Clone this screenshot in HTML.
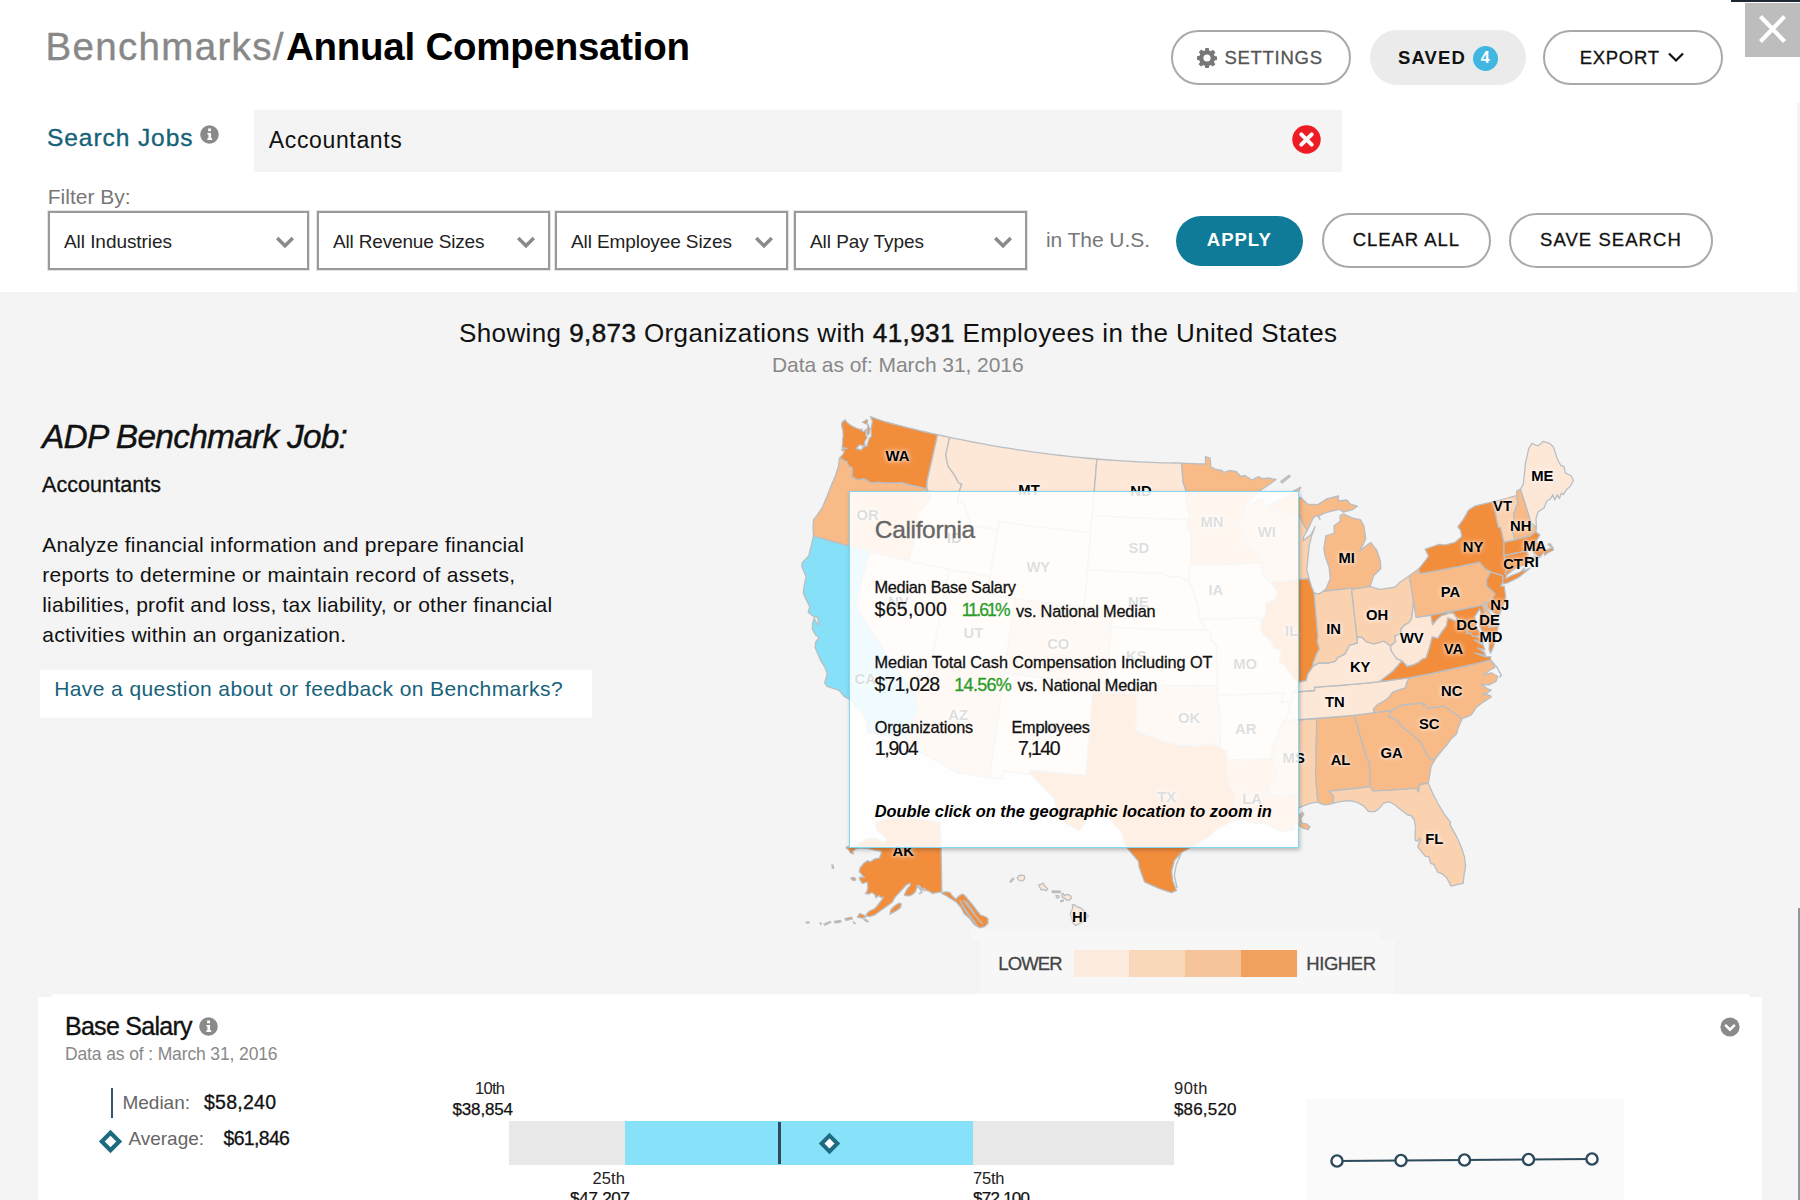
<!DOCTYPE html>
<html lang="en"><head><meta charset="utf-8"><title>Benchmarks / Annual Compensation</title>
<style>
*{box-sizing:border-box}
html,body{margin:0;padding:0}
body{width:1800px;height:1200px;overflow:hidden;position:relative;background:#f4f4f4;font-family:"Liberation Sans", Arial, sans-serif;color:#222}
.t{position:absolute;white-space:pre;line-height:1;display:block;font-weight:400;margin:0}
.abs{position:absolute}
.showing b{font-weight:400;-webkit-text-stroke:.5px #111}
.top{position:absolute;left:0;top:0;width:1797px;height:292px;background:#fff}
.topfill{position:absolute;left:1797px;top:0;width:3px;height:103px;background:#fff}
.close{position:absolute;left:1745px;top:3px;width:55px;height:54px;background:#bdbdbd}
.darkline{position:absolute;left:1731px;top:0;width:69px;height:1.5px;background:#1c2733}
.pill{position:absolute;border:2px solid #a9a9a9;border-radius:30px;background:#fff}
.pill.saved{border:none;background:#ebebeb}
.pill.apply{border:none;background:#0f7b99}
.badge{position:absolute;left:1472.5px;top:45.5px;width:25px;height:25px;border-radius:50%;background:#41b6e0}
.search{position:absolute;left:254px;top:109.5px;width:1088px;height:62px;background:#f4f4f4}
.sel{position:absolute;top:211px;height:59px;border:2px solid #9a9a9a;background:#fff;box-shadow:0 0 0 1px #e4e4e4}
.linkbox{position:absolute;left:40px;top:670px;width:552px;height:48px;background:#fff}
.map{position:absolute;left:780px;top:400px;width:840px;height:540px}
.usmap{display:block}
.sl{position:absolute;width:40px;height:16px;line-height:16px;text-align:center;font-size:14.8px;font-weight:700;color:#000;text-shadow:0 0 3px rgba(255,255,255,.75),0 0 5px rgba(255,255,255,.6),0 0 7px rgba(255,255,255,.45)}
.tip{position:absolute;left:849.2px;top:490.8px;width:449.7px;height:357.6px;border:1.7px solid #7fd9f5;background:rgba(255,255,255,.87);box-shadow:1px 2px 4px rgba(0,0,0,.25)}
.legendbg1{position:absolute;left:971px;top:929px;width:409px;height:12px;background:#f7f7f7}
.legendbg2{position:absolute;left:980px;top:941px;width:415px;height:53px;background:#f7f7f7}
.sw{position:absolute;top:949.5px;height:27px;width:56.2px}
.card{position:absolute;left:38px;top:994px;width:1724px;height:206px;background:#fff}
.chartbox{position:absolute;left:1306px;top:1099px;width:318px;height:101px;background:#fafafa}
.bar{position:absolute;left:509px;top:1121px;width:664.5px;height:44px;background:#e8e8e8}
.bar i{position:absolute;left:116px;top:0;width:347.5px;height:44px;background:#86e1f9}
.bar b{position:absolute;left:269px;top:1px;width:2.5px;height:42px;background:#2d4a5c}
.edge{position:absolute;left:1798.4px;top:908px;width:1.6px;height:292px;background:#8e9aa2}
.cardnotch{position:absolute;left:1749px;top:994px;width:13px;height:3px;background:#f4f4f4}
.cardnotch2{position:absolute;left:38px;top:994px;width:14px;height:3px;background:#f4f4f4}
.medline{position:absolute;left:110.5px;top:1087.5px;width:2.5px;height:30px;background:#2d5472}
</style></head>
<body>
<header class="top"></header><div class="topfill"></div>
<div class="darkline"></div>
<button class="close abs" style="border:0;padding:0" aria-label="Close"><svg width="55" height="54" viewBox="0 0 55 54"><path d="M15.5 13.5L39.5 38.5M39.5 13.5L15.5 38.5" stroke="#fff" stroke-width="4.2" fill="none"/></svg></button>
<h1 style="margin:0"><span class="t" style="left:45.5px;top:28.1px;font-size:38.5px;letter-spacing:1.33px;color:#888;-webkit-text-stroke:.4px #888;">Benchmarks/</span><span class="t" style="left:286.0px;top:28.1px;font-size:38.5px;letter-spacing:-0.25px;font-weight:700;color:#000;">Annual Compensation</span></h1>

<nav>
<div class="pill" style="left:1171px;top:30px;width:180px;height:55px"></div>
<svg class="abs" style="left:1197px;top:48px" width="20" height="20" viewBox="0 0 20 20"><path fill="#777" fill-rule="evenodd" d="M8.3 0h3.4l.5 2.6 1.6.7 2.2-1.5 2.4 2.4-1.5 2.2.7 1.6 2.6.5v3.4l-2.6.5-.7 1.6 1.5 2.2-2.4 2.4-2.2-1.5-1.6.7-.5 2.6H8.3l-.5-2.6-1.6-.7-2.2 1.5-2.4-2.4 1.5-2.2-.7-1.6L0 11.700V8.300l2.600-.5.7-1.600-1.500-2.200 2.400-2.400 2.200 1.500 1.600-.7zM10 6.400a3.600 3.600 0 100 7.200 3.600 3.600 0 000-7.200z"/></svg>
<span class="t" style="left:1224.5px;top:48.8px;font-size:18.5px;letter-spacing:0.71px;color:#555;-webkit-text-stroke:.3px #555;">SETTINGS</span>
<div class="pill saved" style="left:1370px;top:30px;width:156px;height:55px"></div>
<span class="t" style="left:1398.0px;top:48.5px;font-size:18.5px;letter-spacing:1.11px;font-weight:700;color:#111;">SAVED</span>
<div class="badge"></div><span class="t" style="left:1480.7px;top:50.3px;font-size:16px;font-weight:700;color:#fff;">4</span>
<div class="pill" style="left:1542.5px;top:30px;width:180px;height:55px"></div>
<span class="t" style="left:1579.7px;top:48.5px;font-size:18.5px;letter-spacing:0.71px;color:#111;-webkit-text-stroke:.3px #111;">EXPORT</span>
<svg class="abs" style="left:1667px;top:51px" width="18" height="13" viewBox="0 0 18 13"><path d="M2 2.5L9 9.500L16 2.500" stroke="#111" stroke-width="2.2" fill="none"/></svg>
</nav>

<section>
<span class="t" style="left:47.0px;top:126.3px;font-size:24.5px;letter-spacing:0.93px;color:#16627a;-webkit-text-stroke:.35px #16627a;">Search Jobs</span>
<svg class="abs" style="left:200px;top:125px" width="19" height="19" viewBox="0 0 19 19"><circle cx="9.5" cy="9.5" r="9.3" fill="#8a8a8a"/><path d="M8.100 3.600h2.900v2.600H8.100zM7.400 8h3.700v5.300h1.100v1.600H7.400v-1.600h1V9.600h-1z" fill="#fff"/></svg>
<div class="search"></div>
<span class="t" style="left:268.8px;top:128.5px;font-size:23px;letter-spacing:0.64px;color:#111;">Accountants</span>
<svg class="abs" style="left:1292px;top:124.5px" width="29" height="29" viewBox="0 0 29 29"><circle cx="14.5" cy="14.5" r="14.2" fill="#ee1c24"/><path d="M9.300 9.300L19.700 19.700M19.700 9.300L9.300 19.700" stroke="#fff" stroke-width="4" stroke-linecap="round"/></svg>
<span class="t" style="left:47.7px;top:185.5px;font-size:21px;letter-spacing:0.02px;color:#777;">Filter By:</span><div class="sel" style="left:48px;width:261px"></div><span class="t" style="left:64.0px;top:231.6px;font-size:19px;letter-spacing:-0.06px;">All Industries</span><svg class="abs" style="left:274.5px;top:235px" width="20" height="15" viewBox="0 0 20 15"><path d="M2.200 3L10 10.800L17.800 3" stroke="#8a8a8a" stroke-width="3.400" fill="none"/></svg><div class="sel" style="left:317px;width:233px"></div><span class="t" style="left:333.0px;top:231.6px;font-size:19px;letter-spacing:-0.17px;">All Revenue Sizes</span><svg class="abs" style="left:515.5px;top:235px" width="20" height="15" viewBox="0 0 20 15"><path d="M2.200 3L10 10.800L17.800 3" stroke="#8a8a8a" stroke-width="3.400" fill="none"/></svg><div class="sel" style="left:555px;width:233px"></div><span class="t" style="left:571.0px;top:231.6px;font-size:19px;letter-spacing:-0.10px;">All Employee Sizes</span><svg class="abs" style="left:753.5px;top:235px" width="20" height="15" viewBox="0 0 20 15"><path d="M2.200 3L10 10.800L17.800 3" stroke="#8a8a8a" stroke-width="3.400" fill="none"/></svg><div class="sel" style="left:794px;width:233px"></div><span class="t" style="left:810.0px;top:231.6px;font-size:19px;letter-spacing:-0.06px;">All Pay Types</span><svg class="abs" style="left:992.5px;top:235px" width="20" height="15" viewBox="0 0 20 15"><path d="M2.200 3L10 10.800L17.800 3" stroke="#8a8a8a" stroke-width="3.400" fill="none"/></svg><span class="t" style="left:1046.0px;top:229.0px;font-size:21px;letter-spacing:-0.07px;color:#777;">in The U.S.</span>
<div class="pill apply" style="left:1176px;top:216px;width:126.500px;height:49.500px"></div>
<span class="t" style="left:1206.8px;top:230.9px;font-size:18.5px;letter-spacing:1.00px;font-weight:700;color:#fff;">APPLY</span>
<div class="pill" style="left:1322px;top:213px;width:169px;height:54.500px"></div>
<span class="t" style="left:1352.8px;top:230.9px;font-size:18.5px;letter-spacing:0.93px;color:#111;-webkit-text-stroke:.3px #111;">CLEAR ALL</span>
<div class="pill" style="left:1509px;top:213px;width:203.500px;height:54.500px"></div>
<span class="t" style="left:1540.0px;top:230.9px;font-size:18.5px;letter-spacing:1.06px;color:#111;-webkit-text-stroke:.3px #111;">SAVE SEARCH</span>
</section>

<main>
<span class="t showing" style="left:458.9px;top:320.4px;font-size:26px;letter-spacing:0.41px;color:#111;">Showing <b>9,873</b> Organizations with <b>41,931</b> Employees in the United States</span><span class="t" style="left:772.0px;top:353.7px;font-size:21px;letter-spacing:-0.07px;color:#888;">Data as of: March 31, 2016</span><span class="t" style="left:42.0px;top:420.3px;font-size:33.5px;letter-spacing:-0.77px;font-style:italic;color:#111;-webkit-text-stroke:.4px #111;">ADP Benchmark Job:</span><span class="t" style="left:42.0px;top:475.3px;font-size:21.5px;letter-spacing:0.07px;color:#111;-webkit-text-stroke:.3px #111;">Accountants</span><span class="t" style="left:42.2px;top:534.2px;font-size:21px;letter-spacing:0.25px;color:#111;">Analyze financial information and prepare financial</span>
<span class="t" style="left:42.2px;top:564.2px;font-size:21px;letter-spacing:0.29px;color:#111;">reports to determine or maintain record of assets,</span>
<span class="t" style="left:42.2px;top:594.2px;font-size:21px;letter-spacing:0.23px;color:#111;">liabilities, profit and loss, tax liability, or other financial</span>
<span class="t" style="left:42.2px;top:624.2px;font-size:21px;letter-spacing:0.26px;color:#111;">activities within an organization.</span><div class="linkbox"></div><span class="t" style="left:54.2px;top:677.5px;font-size:21px;letter-spacing:0.41px;color:#16627a;">Have a question about or feedback on Benchmarks?</span><div class="map"><svg class="usmap" width="840" height="540" viewBox="0 0 840 540">
<g class="states" stroke="#b9bec3" stroke-width="1.3" stroke-linejoin="round">
<path id="st-WA" fill="#f28d3c" d="M59.5,58.2L62.0,55.3L63.6,53.4L64.3,50.8L62.0,50.6L61.8,49.2L67.2,48.6L62.0,47.4L62.5,45.0L62.7,40.0L63.2,35.0L62.8,30.0L61.7,26.5L61.8,22.5L65.0,19.7L67.0,22.5L71.0,25.5L76.0,28.0L80.5,29.7L82.0,29.1L82.5,31.9L84.5,31.0L86.1,29.3L85.8,32.0L86.0,36.0L87.3,37.0L85.0,41.0L84.5,42.5L85.0,45.0L82.0,45.7L80.0,44.5L76.0,48.5L81.5,50.0L83.0,47.0L87.0,46.0L88.0,42.0L89.5,38.0L91.5,36.0L91.2,32.0L91.0,28.5L92.5,21.5L90.5,16.7L95.0,18.3L99.4,19.9L103.9,21.4L109.8,23.0L115.8,24.6L121.7,26.1L127.7,27.7L133.7,29.1L139.6,30.6L145.6,32.0L151.6,33.4L157.6,34.7L155.9,42.4L154.1,50.1L152.4,57.8L150.6,65.5L148.9,73.2L147.1,81.0L146.9,88.9L141.6,87.7L136.4,86.5L131.1,85.3L125.8,84.0L120.6,82.7L116.5,83.1L111.8,83.1L107.0,83.2L103.1,82.8L99.1,82.5L95.0,82.6L90.9,82.8L87.4,80.8L83.9,78.9L80.3,79.4L76.8,79.8L71.7,76.5L72.1,72.7L72.1,67.9L68.6,66.0L67.0,62.0L64.0,60.4ZM82.5,22.2L86.8,19.7L87.6,20.7L87.0,24.0L85.0,23.5ZM88.1,24.5L89.6,28.5L89.1,34.0L87.6,35.0L87.1,31.0Z"/>
<path id="st-OR" fill="#f8ba86" d="M33.5,135.9L33.0,128.0L33.5,119.6L36.9,115.6L39.6,111.5L42.3,107.5L44.8,101.4L47.4,95.4L49.1,91.1L50.7,86.7L53.3,80.7L55.8,74.7L57.2,70.3L58.5,65.9L59.5,58.2L64.0,60.4L67.0,62.0L68.6,66.0L72.1,67.9L72.1,72.7L71.7,76.5L76.8,79.8L80.3,79.4L83.9,78.9L87.4,80.8L90.9,82.8L95.0,82.6L99.1,82.5L103.1,82.8L107.0,83.2L111.8,83.1L116.5,83.1L120.6,82.7L125.8,84.0L131.1,85.3L136.4,86.5L141.6,87.7L146.9,88.9L150.6,94.4L150.4,98.2L146.7,103.0L143.7,107.1L140.1,111.1L136.7,117.0L139.2,121.3L136.6,127.8L134.7,136.1L132.8,144.4L130.9,152.7L129.0,161.0L122.4,159.5L115.7,158.0L109.1,156.4L102.5,154.8L95.8,153.2L89.2,151.5L83.0,149.9L76.8,148.2L70.6,146.6L64.4,144.9L58.2,143.1L52.0,141.4L45.8,139.6L39.6,137.8Z"/>
<path id="st-NV" fill="#fde8d8" d="M89.2,151.5L95.8,153.2L102.5,154.8L109.1,156.4L115.7,158.0L122.4,159.5L129.0,161.0L135.7,162.5L142.4,163.9L149.1,165.3L155.8,166.7L162.6,168.0L169.3,169.3L167.7,177.6L166.0,186.0L164.4,194.3L162.8,202.6L161.2,210.9L159.6,219.3L158.0,227.6L156.3,236.0L154.7,244.3L153.1,252.6L151.5,261.0L150.0,268.3L148.6,275.7L143.3,275.6L138.1,275.5L137.5,281.1L136.8,286.7L137.3,292.5L135.7,296.0L129.8,287.9L124.0,279.8L118.2,271.6L112.6,263.5L107.0,255.3L101.5,247.0L96.0,238.8L90.7,230.6L85.4,222.3L80.2,214.0L75.1,205.7L77.1,197.9L79.1,190.2L81.1,182.4L83.2,174.7L85.2,167.0L87.2,159.2Z"/>
<path id="st-ID" fill="#fde8d8" d="M157.6,34.7L163.6,36.0L169.6,37.3L168.3,43.3L167.0,49.3L165.7,55.2L166.8,60.6L168.0,66.0L171.5,71.0L175.0,75.9L178.8,83.3L181.9,83.9L179.1,91.8L178.3,97.3L177.5,102.8L183.7,102.1L185.8,108.6L187.9,115.1L189.9,120.6L191.9,126.2L196.5,126.5L201.2,126.9L206.4,127.8L211.7,128.6L217.4,130.9L215.9,140.0L214.4,149.1L213.0,158.2L211.5,167.3L210.0,176.4L204.2,175.5L198.4,174.5L192.5,173.5L186.7,172.5L180.9,171.5L175.1,170.4L169.3,169.3L162.6,168.0L155.8,166.7L149.1,165.3L142.4,163.9L135.7,162.5L129.0,161.0L130.9,152.7L132.8,144.4L134.7,136.1L136.6,127.8L139.2,121.3L136.7,117.0L140.1,111.1L143.7,107.1L146.7,103.0L150.4,98.2L150.6,94.4L146.9,88.9L147.1,81.0L148.9,73.2L150.6,65.5L152.4,57.8L154.1,50.1L155.9,42.4Z"/>
<path id="st-MT" fill="#fde8d8" d="M169.6,37.3L175.5,38.6L181.3,39.7L187.1,40.9L193.0,42.0L198.8,43.1L204.7,44.2L210.6,45.3L216.4,46.3L222.3,47.3L228.2,48.2L234.1,49.2L240.0,50.1L245.9,50.9L251.8,51.8L257.7,52.6L263.6,53.4L269.5,54.1L275.4,54.8L281.3,55.5L287.3,56.2L293.2,56.8L299.1,57.4L305.0,58.0L311.0,58.5L316.9,59.0L316.2,67.0L315.6,75.0L314.9,83.0L314.2,91.0L313.5,99.0L312.8,107.1L312.1,115.1L311.4,123.8L310.6,132.4L304.5,131.9L298.4,131.3L292.2,130.7L286.1,130.1L280.0,129.5L273.8,128.8L267.7,128.1L261.6,127.3L255.5,126.6L249.4,125.8L243.3,125.0L237.2,124.1L231.1,123.2L225.0,122.3L218.9,121.3L218.2,126.1L217.4,130.9L211.7,128.6L206.4,127.8L201.2,126.9L196.5,126.5L191.9,126.2L189.9,120.6L187.9,115.1L185.8,108.6L183.7,102.1L177.5,102.8L178.3,97.3L179.1,91.8L181.9,83.9L178.8,83.3L175.0,75.9L171.5,71.0L168.0,66.0L166.8,60.6L165.7,55.2L167.0,49.3L168.3,43.3Z"/>
<path id="st-WY" fill="#fde8d8" d="M217.4,130.9L218.2,126.1L218.9,121.3L225.0,122.3L231.1,123.2L237.2,124.1L243.3,125.0L249.4,125.8L255.5,126.6L261.6,127.3L267.7,128.1L273.8,128.8L280.0,129.5L286.1,130.1L292.2,130.7L298.4,131.3L304.5,131.9L310.6,132.4L310.0,139.8L309.4,147.2L308.7,154.6L308.1,162.0L307.5,169.4L306.8,176.8L306.2,184.3L305.5,191.7L304.9,199.1L304.3,206.6L297.9,206.0L291.6,205.4L285.3,204.8L278.9,204.2L272.6,203.5L266.3,202.8L260.0,202.1L253.7,201.3L247.4,200.6L241.0,199.7L234.7,198.9L229.2,198.1L223.7,197.3L218.1,196.5L212.6,195.7L207.1,194.8L208.1,188.7L209.0,182.5L210.0,176.4L211.5,167.3L213.0,158.2L214.4,149.1L215.9,140.0Z"/>
<path id="st-UT" fill="#fde8d8" d="M169.3,169.3L175.1,170.4L180.9,171.5L186.7,172.5L192.5,173.5L198.4,174.5L204.2,175.5L210.0,176.4L209.0,182.5L208.1,188.7L207.1,194.8L212.6,195.7L218.1,196.5L223.7,197.3L229.2,198.1L234.7,198.9L233.6,207.1L232.4,215.3L231.3,223.5L230.2,231.8L229.0,240.0L227.9,248.2L226.7,256.4L225.6,264.7L224.4,272.9L217.8,272.0L211.1,271.0L204.5,270.0L197.8,269.0L191.2,268.0L184.5,266.9L177.9,265.8L171.3,264.6L164.7,263.4L158.1,262.2L151.5,261.0L153.1,252.6L154.7,244.3L156.3,236.0L158.0,227.6L159.6,219.3L161.2,210.9L162.8,202.6L164.4,194.3L166.0,186.0L167.7,177.6Z"/>
<path id="st-CO" fill="#fbd2b0" d="M234.7,198.9L241.0,199.7L247.4,200.6L253.7,201.3L260.0,202.1L266.3,202.8L272.6,203.5L278.9,204.2L285.3,204.8L291.6,205.4L297.9,206.0L304.3,206.6L309.8,207.0L315.4,207.5L321.0,207.9L326.6,208.3L332.2,208.6L331.8,214.8L331.4,221.0L331.0,227.2L330.5,235.2L329.9,243.2L329.4,251.2L328.9,259.2L328.4,267.2L327.9,275.2L327.4,283.2L320.4,282.7L313.4,282.2L306.5,281.7L299.6,281.1L292.8,280.6L285.9,279.9L279.1,279.3L272.2,278.6L265.4,277.9L258.5,277.1L251.7,276.4L244.9,275.5L238.1,274.7L231.2,273.8L224.4,272.9L225.6,264.7L226.7,256.4L227.9,248.2L229.0,240.0L230.2,231.8L231.3,223.5L232.4,215.3L233.6,207.1Z"/>
<path id="st-AZ" fill="#fbd2b0" d="M151.5,261.0L158.1,262.2L164.7,263.4L171.3,264.6L177.9,265.8L184.5,266.9L191.2,268.0L197.8,269.0L204.5,270.0L211.1,271.0L217.8,272.0L224.4,272.9L223.2,281.6L222.0,290.4L220.7,299.1L219.5,307.9L218.3,316.6L217.1,325.3L215.9,334.0L214.7,342.8L213.4,351.5L212.2,360.2L211.0,368.9L209.8,377.6L203.4,376.7L197.1,375.8L190.7,374.9L184.4,373.9L178.0,372.9L171.1,369.1L164.2,365.2L157.4,361.3L150.6,357.4L143.8,353.4L137.1,349.4L130.4,345.4L123.7,341.3L126.0,337.4L130.4,332.9L128.0,328.7L132.2,323.8L134.6,315.7L140.2,311.1L136.6,309.5L136.2,304.6L135.9,299.8L135.7,296.0L137.3,292.5L136.8,286.7L137.5,281.1L138.1,275.5L143.3,275.6L148.6,275.7L150.0,268.3Z"/>
<path id="st-NM" fill="#fde8d8" d="M224.4,272.9L231.2,273.8L238.1,274.7L244.9,275.5L251.7,276.4L258.5,277.1L265.4,277.9L272.2,278.6L279.1,279.3L285.9,279.9L292.8,280.6L299.6,281.1L306.5,281.7L313.4,282.2L313.0,286.9L312.7,291.5L312.0,299.9L311.3,308.3L310.6,316.7L309.9,325.0L309.2,333.4L308.5,341.8L307.9,350.1L307.2,358.5L306.5,366.8L305.8,375.2L298.8,374.6L291.7,374.1L284.7,373.5L277.7,372.8L270.6,372.2L263.6,371.5L256.6,370.7L249.6,370.0L250.5,374.2L243.9,373.4L237.3,372.7L230.7,371.9L224.1,371.0L223.0,379.3L216.4,378.5L209.8,377.6L211.0,368.9L212.2,360.2L213.4,351.5L214.7,342.8L215.9,334.0L217.1,325.3L218.3,316.6L219.5,307.9L220.7,299.1L222.0,290.4L223.2,281.6Z"/>
<path id="st-ND" fill="#fde8d8" d="M316.9,59.0L322.9,59.5L329.0,60.0L335.0,60.4L341.1,60.8L347.1,61.2L353.1,61.5L359.2,61.8L365.2,62.1L371.3,62.4L377.3,62.6L383.4,62.8L389.4,62.9L395.4,63.0L401.5,63.1L401.9,67.7L402.4,72.3L402.6,76.9L402.9,81.5L404.4,86.1L406.0,90.7L406.2,96.2L406.5,101.7L407.7,107.3L409.0,112.8L409.5,119.5L403.0,119.4L396.5,119.3L390.0,119.2L383.5,119.0L377.0,118.9L370.5,118.6L364.0,118.4L357.5,118.1L351.0,117.8L344.5,117.4L338.0,117.0L331.6,116.6L325.1,116.1L318.6,115.6L312.1,115.1L312.8,107.1L313.5,99.0L314.2,91.0L314.9,83.0L315.6,75.0L316.2,67.0Z"/>
<path id="st-SD" fill="#fde8d8" d="M312.1,115.1L318.6,115.6L325.1,116.1L331.6,116.6L338.0,117.0L344.5,117.4L351.0,117.8L357.5,118.1L364.0,118.4L370.5,118.6L377.0,118.9L383.5,119.0L390.0,119.2L396.5,119.3L403.0,119.4L409.5,119.5L405.6,125.7L410.9,131.3L410.8,139.6L410.8,148.0L410.7,156.3L410.7,164.7L408.6,170.3L410.0,175.9L408.6,181.4L410.6,183.5L407.2,181.4L403.1,178.2L399.7,177.4L396.3,176.6L390.9,177.5L386.8,175.5L382.8,173.6L376.5,173.4L370.2,173.2L363.9,172.9L357.6,172.7L351.4,172.4L345.1,172.0L338.8,171.7L332.5,171.3L326.3,170.9L320.0,170.4L313.7,169.9L307.5,169.4L308.1,162.0L308.7,154.6L309.4,147.2L310.0,139.8L310.6,132.4L311.4,123.8Z"/>
<path id="st-NE" fill="#fde8d8" d="M307.5,169.4L313.7,169.9L320.0,170.4L326.3,170.9L332.5,171.3L338.8,171.7L345.1,172.0L351.4,172.4L357.6,172.7L363.9,172.9L370.2,173.2L376.5,173.4L382.8,173.6L386.8,175.5L390.9,177.5L396.3,176.6L399.7,177.4L403.1,178.2L407.2,181.4L410.6,183.5L412.6,188.9L414.0,193.6L415.4,198.2L418.2,205.7L418.9,213.1L420.0,219.1L423.1,224.3L426.6,229.9L419.7,229.9L412.9,229.9L406.1,229.9L399.2,229.8L392.4,229.7L385.6,229.6L378.7,229.4L371.9,229.2L365.1,229.0L358.3,228.7L351.4,228.4L344.6,228.0L337.8,227.7L331.0,227.2L331.4,221.0L331.8,214.8L332.2,208.6L326.6,208.3L321.0,207.9L315.4,207.5L309.8,207.0L304.3,206.6L304.9,199.1L305.5,191.7L306.2,184.3L306.8,176.8Z"/>
<path id="st-KS" fill="#fde8d8" d="M331.0,227.2L337.8,227.7L344.6,228.0L351.4,228.4L358.3,228.7L365.1,229.0L371.9,229.2L378.7,229.4L385.6,229.6L392.4,229.7L399.2,229.8L406.1,229.9L412.9,229.9L419.7,229.9L426.6,229.9L429.6,231.8L432.4,234.5L430.3,239.2L436.9,246.2L436.9,254.2L437.0,262.1L437.1,270.0L437.1,277.9L437.2,285.8L429.9,285.9L422.5,286.0L415.2,286.0L407.9,286.0L400.6,285.9L393.2,285.8L385.9,285.7L378.6,285.5L371.3,285.3L363.9,285.0L356.6,284.7L349.3,284.4L342.0,284.0L334.7,283.6L327.4,283.2L327.9,275.2L328.4,267.2L328.9,259.2L329.4,251.2L329.9,243.2L330.5,235.2Z"/>
<path id="st-OK" fill="#fbd2b0" d="M313.4,282.2L320.4,282.7L327.4,283.2L334.7,283.6L342.0,284.0L349.3,284.4L356.6,284.7L363.9,285.0L371.3,285.3L378.6,285.5L385.9,285.7L393.2,285.8L400.6,285.9L407.9,286.0L415.2,286.0L422.5,286.0L429.9,285.9L437.2,285.8L437.2,290.5L437.3,295.2L438.4,302.0L439.4,308.8L440.5,315.7L440.4,323.9L440.4,332.1L440.3,340.3L440.3,348.5L436.2,346.1L432.2,343.8L428.3,344.0L424.5,344.2L420.6,345.4L416.8,346.6L412.1,345.7L407.5,344.8L401.3,345.6L397.5,344.7L393.7,343.7L389.8,342.7L386.0,341.7L382.2,340.6L378.4,339.6L373.1,337.6L367.7,335.6L361.7,333.5L355.7,330.3L356.1,321.2L356.5,312.2L356.9,303.1L357.2,294.1L350.9,293.8L344.5,293.5L338.1,293.2L331.8,292.8L325.4,292.4L319.0,292.0L312.7,291.5L313.0,286.9Z"/>
<path id="st-TX" fill="#f28d3c" d="M312.7,291.5L319.0,292.0L325.4,292.4L331.8,292.8L338.1,293.2L344.5,293.5L350.9,293.8L357.2,294.1L356.9,303.1L356.5,312.2L356.1,321.2L355.7,330.3L361.7,333.5L367.7,335.6L373.1,337.6L378.4,339.6L382.2,340.6L386.0,341.7L389.8,342.7L393.7,343.7L397.5,344.7L401.3,345.6L407.5,344.8L412.1,345.7L416.8,346.6L420.6,345.4L424.5,344.2L428.3,344.0L432.2,343.8L436.2,346.1L440.3,348.5L447.1,350.1L447.2,355.0L447.3,359.9L447.4,366.3L447.6,372.6L447.7,378.9L450.9,386.3L453.3,390.9L455.9,395.4L454.8,400.1L453.7,404.8L453.8,409.4L453.9,414.0L451.7,421.5L444.8,424.9L438.0,428.2L433.9,432.0L429.9,435.7L423.3,439.9L416.8,444.1L409.3,448.2L401.9,452.3L394.3,460.5L393.0,466.0L391.6,471.5L392.2,476.1L392.8,480.7L394.6,485.7L396.4,490.7L391.3,492.6L385.4,490.7L379.5,488.7L372.0,485.3L364.5,481.9L361.8,474.5L359.1,467.0L358.5,461.4L352.1,453.8L345.8,446.2L343.3,438.7L340.8,431.2L335.0,424.7L329.2,418.1L322.0,416.7L314.8,415.2L308.1,418.1L304.0,424.5L299.8,430.9L293.1,427.4L286.4,423.9L282.6,420.8L278.8,417.6L277.2,411.3L275.7,405.0L274.1,398.6L268.7,393.1L263.4,387.6L258.1,382.1L254.3,378.2L250.5,374.2L249.6,370.0L256.6,370.7L263.6,371.5L270.6,372.2L277.7,372.8L284.7,373.5L291.7,374.1L298.8,374.6L305.8,375.2L306.5,366.8L307.2,358.5L307.9,350.1L308.5,341.8L309.2,333.4L309.9,325.0L310.6,316.7L311.3,308.3L312.0,299.9Z"/>
<path id="st-MN" fill="#f8ba86" d="M401.5,63.1L407.5,63.4L413.5,63.6L419.5,63.8L425.5,64.0L425.5,56.5L430.0,58.0L431.0,67.0L436.0,69.5L442.0,70.5L443.5,72.5L449.0,70.5L452.5,71.0L456.0,71.5L461.0,76.5L465.0,75.5L468.5,77.8L472.0,80.0L475.5,78.2L479.0,76.5L481.0,78.5L485.0,78.3L489.0,78.0L492.5,78.8L496.0,79.5L490.0,84.0L484.0,88.0L479.0,91.2L476.7,93.9L471.8,98.7L466.9,103.5L464.5,105.3L464.7,110.6L464.9,116.0L459.1,119.5L457.3,125.1L460.7,128.7L459.7,136.2L459.2,140.8L462.6,143.0L466.0,145.2L471.4,148.7L475.6,152.7L479.9,156.7L481.3,163.1L474.8,163.4L468.4,163.7L462.0,163.9L455.6,164.1L449.2,164.3L442.8,164.5L436.4,164.6L429.9,164.6L423.5,164.7L417.1,164.7L410.7,164.7L410.7,156.3L410.8,148.0L410.8,139.6L410.9,131.3L405.6,125.7L409.5,119.5L409.0,112.8L407.7,107.3L406.5,101.7L406.2,96.2L406.0,90.7L404.4,86.1L402.9,81.5L402.6,76.9L402.4,72.3L401.9,67.7Z"/>
<path id="st-IA" fill="#fde8d8" d="M410.7,164.7L417.1,164.7L423.5,164.7L429.9,164.6L436.4,164.6L442.8,164.5L449.2,164.3L455.6,164.1L462.0,163.9L468.4,163.7L474.8,163.4L481.3,163.1L482.0,167.7L482.7,172.4L484.3,177.9L490.0,181.3L493.7,186.7L497.5,192.0L495.2,198.7L490.4,201.3L485.7,203.9L485.6,208.6L485.5,213.3L481.7,220.9L477.0,217.4L470.7,217.7L464.3,218.0L458.0,218.2L451.7,218.5L445.3,218.7L439.0,218.8L432.7,218.9L426.3,219.0L420.0,219.1L418.9,213.1L418.2,205.7L415.4,198.2L414.0,193.6L412.6,188.9L410.6,183.5L408.6,181.4L410.0,175.9L408.6,170.3Z"/>
<path id="st-MO" fill="#fde8d8" d="M420.0,219.1L426.3,219.0L432.7,218.9L439.0,218.8L445.3,218.7L451.7,218.5L458.0,218.2L464.3,218.0L470.7,217.7L477.0,217.4L481.7,220.9L480.6,228.4L482.2,233.0L487.1,237.5L492.0,241.9L493.8,248.3L500.4,249.8L500.6,253.6L498.9,261.2L505.8,266.3L509.1,271.7L512.4,277.1L518.0,282.4L516.3,290.0L513.5,292.1L512.3,296.8L511.1,301.6L506.1,301.9L501.1,302.2L502.4,297.4L503.8,292.7L496.4,293.1L489.0,293.5L481.6,293.9L474.3,294.2L466.9,294.5L459.5,294.7L452.1,294.9L444.7,295.1L437.3,295.2L437.2,290.5L437.2,285.8L437.1,277.9L437.1,270.0L437.0,262.1L436.9,254.2L436.9,246.2L430.3,239.2L432.4,234.5L429.6,231.8L426.6,229.9L423.1,224.3Z"/>
<path id="st-AR" fill="#fde8d8" d="M437.3,295.2L444.7,295.1L452.1,294.9L459.5,294.7L466.9,294.5L474.3,294.2L481.6,293.9L489.0,293.5L496.4,293.1L503.8,292.7L502.4,297.4L501.1,302.2L506.1,301.9L511.1,301.6L509.0,309.7L506.9,317.7L503.3,320.8L503.4,322.6L499.3,330.3L497.2,335.1L495.2,339.9L493.5,344.7L491.8,349.4L492.1,354.1L492.3,358.7L484.8,359.0L477.3,359.3L469.8,359.5L462.3,359.7L454.8,359.8L447.3,359.9L447.2,355.0L447.1,350.1L440.3,348.5L440.3,340.3L440.4,332.1L440.4,323.9L440.5,315.7L439.4,308.8L438.4,302.0Z"/>
<path id="st-LA" fill="#f8ba86" d="M447.3,359.9L454.8,359.8L462.3,359.7L469.8,359.5L477.3,359.3L484.8,359.0L492.3,358.7L493.5,366.1L496.9,371.5L492.7,381.0L488.3,388.7L487.0,396.2L494.5,395.8L502.0,395.4L509.4,395.0L516.9,394.5L515.3,400.2L518.3,408.0L516.7,412.2L519.4,415.6L522.2,412.2L523.9,413.9L520.6,418.9L522.2,423.3L526.7,423.9L530.0,426.7L528.3,429.5L522.2,427.8L518.3,424.4L514.4,422.2L514.7,429.0L508.3,430.3L501.8,431.6L497.6,429.5L493.4,427.4L489.2,425.3L485.0,423.2L481.0,423.3L476.9,423.5L469.5,421.7L462.2,419.9L456.9,420.7L451.7,421.5L453.9,414.0L453.8,409.4L453.7,404.8L454.8,400.1L455.9,395.4L453.3,390.9L450.9,386.3L447.7,378.9L447.6,372.6L447.4,366.3Z"/>
<path id="st-MS" fill="#fbd2b0" d="M503.3,320.8L509.6,320.4L516.0,320.0L522.4,319.5L528.7,319.0L535.1,318.5L536.7,320.3L536.6,327.8L536.5,335.3L536.3,342.8L536.1,350.2L536.0,357.7L535.9,364.0L535.7,370.2L535.6,376.4L536.3,385.0L537.1,393.6L537.8,402.2L530.0,403.3L523.3,405.8L518.3,408.0L515.3,400.2L516.9,394.5L509.4,395.0L502.0,395.4L494.5,395.8L487.0,396.2L488.3,388.7L492.7,381.0L496.9,371.5L493.5,366.1L492.3,358.7L492.1,354.1L491.8,349.4L493.5,344.7L495.2,339.9L497.2,335.1L499.3,330.3L503.4,322.6Z"/>
<path id="st-AL" fill="#f8ba86" d="M535.1,318.5L541.6,318.0L548.2,317.5L554.7,317.0L561.3,316.4L567.9,315.8L574.4,315.2L576.5,322.9L578.7,330.5L580.9,338.2L583.1,345.9L585.3,353.5L587.3,358.6L589.3,363.8L589.7,370.3L590.0,376.8L590.0,381.7L590.0,386.7L583.3,387.5L576.5,388.3L569.7,389.0L563.0,389.8L556.2,390.5L549.4,391.1L553.9,396.7L552.8,403.3L547.8,404.7L543.3,404.7L537.8,402.2L537.1,393.6L536.3,385.0L535.6,376.4L535.7,370.2L535.9,364.0L536.0,357.7L536.1,350.2L536.3,342.8L536.5,335.3L536.6,327.8L536.7,320.3Z"/>
<path id="st-GA" fill="#f8ba86" d="M574.4,315.2L580.8,314.4L587.3,313.6L593.7,312.7L599.8,311.9L605.9,311.1L612.0,310.2L609.0,316.3L616.5,320.0L623.0,327.5L628.2,331.5L633.5,335.4L637.6,339.5L641.8,343.6L644.5,350.7L647.5,355.0L650.6,359.2L654.7,359.9L651.0,366.7L649.8,374.4L648.3,383.3L644.2,383.9L640.0,384.5L638.3,392.2L636.7,388.3L629.4,388.9L622.2,389.4L615.0,389.9L607.8,390.3L600.6,390.7L593.3,391.1L590.0,386.7L590.0,381.7L590.0,376.8L589.7,370.3L589.3,363.8L587.3,358.6L585.3,353.5L583.1,345.9L580.9,338.2L578.7,330.5L576.5,322.9Z"/>
<path id="st-FL" fill="#fbd2b0" d="M590.0,386.7L593.3,391.1L600.6,390.7L607.8,390.3L615.0,389.9L622.2,389.4L629.4,388.9L636.7,388.3L638.3,392.2L640.0,384.5L644.2,383.9L648.3,383.3L650.3,387.8L652.2,392.2L655.0,397.8L657.8,403.3L661.1,408.9L664.4,414.4L670.6,422.2L670.0,424.5L673.3,430.6L676.7,436.7L678.9,441.7L681.1,446.7L682.8,451.7L684.4,456.7L685.0,461.7L685.6,466.7L683.9,475.6L683.3,483.3L677.2,484.7L671.1,486.1L666.7,477.8L662.2,473.9L657.8,472.2L653.9,464.4L650.5,463.3L648.9,456.7L645.6,456.7L641.1,451.1L637.8,447.2L638.9,443.3L640.6,439.5L639.4,438.3L637.8,441.1L635.5,440.6L635.0,435.6L635.6,427.8L634.4,420.0L631.1,415.5L627.8,415.0L621.1,410.0L614.4,404.5L608.9,401.7L603.3,403.3L598.9,408.9L594.4,411.7L588.9,411.7L583.3,405.6L576.7,402.2L568.9,400.5L564.4,401.1L560.0,401.7L552.8,403.3L553.9,396.7L549.4,391.1L556.2,390.5L563.0,389.8L569.7,389.0L576.5,388.3L583.3,387.5Z"/>
<path id="st-SC" fill="#f8ba86" d="M612.0,310.2L616.7,308.2L622.0,305.0L628.9,304.4L635.7,303.7L642.5,302.9L642.9,304.9L644.3,303.6L647.4,308.4L653.0,307.6L658.6,306.8L664.1,306.0L670.1,310.3L676.1,314.5L682.1,318.7L678.4,327.2L676.5,334.1L671.0,338.9L666.6,345.3L663.3,349.1L659.9,353.0L654.7,359.9L650.6,359.2L647.5,355.0L644.5,350.7L641.8,343.6L637.6,339.5L633.5,335.4L628.2,331.5L623.0,327.5L616.5,320.0L609.0,316.3Z"/>
<path id="st-NC" fill="#f8ba86" d="M628.9,277.8L635.7,276.5L642.6,275.2L649.4,273.8L656.3,272.4L663.1,271.0L669.9,269.5L676.7,268.0L683.5,266.5L690.3,264.9L697.1,263.3L703.9,261.7L710.6,260.0L715.0,267.5L710.0,270.0L703.7,275.0L707.5,273.9L711.3,272.8L717.5,276.2L716.2,281.2L712.5,283.1L708.8,285.0L701.2,284.4L707.5,288.8L711.3,290.0L706.2,293.8L702.5,294.0L710.0,295.3L711.3,297.0L706.9,299.8L702.5,302.5L696.3,307.5L691.3,315.0L686.7,316.9L682.1,318.7L676.1,314.5L670.1,310.3L664.1,306.0L658.6,306.8L653.0,307.6L647.4,308.4L644.3,303.6L642.9,304.9L642.5,302.9L635.7,303.7L628.9,304.4L622.0,305.0L616.7,308.2L612.0,310.2L605.9,311.1L599.8,311.9L593.7,312.7L593.5,308.8L597.5,304.6L601.1,302.5L604.6,300.5L608.8,297.5L612.6,292.2L616.9,290.7L621.2,289.1L625.5,287.6L626.4,283.6Z"/>
<path id="st-TN" fill="#fde8d8" d="M513.5,292.1L520.5,291.6L527.6,291.0L534.7,290.5L534.4,287.1L540.2,286.8L546.0,286.4L551.8,286.0L557.7,285.6L564.6,285.0L571.6,284.4L578.5,283.8L585.5,283.1L592.5,282.5L599.4,281.7L605.3,281.0L611.2,280.2L617.1,279.4L623.0,278.6L628.9,277.8L626.4,283.6L625.5,287.6L621.2,289.1L616.9,290.7L612.6,292.2L608.8,297.5L604.6,300.5L601.1,302.5L597.5,304.6L593.5,308.8L593.7,312.7L587.3,313.6L580.8,314.4L574.4,315.2L567.9,315.8L561.3,316.4L554.7,317.0L548.2,317.5L541.6,318.0L535.1,318.5L528.7,319.0L522.4,319.5L516.0,320.0L509.6,320.4L503.3,320.8L506.9,317.7L509.0,309.7L511.1,301.6L512.3,296.8Z"/>
<path id="st-KY" fill="#fde8d8" d="M513.5,292.1L516.3,290.0L518.0,282.4L522.0,281.4L526.0,280.5L527.7,274.2L532.9,266.2L539.2,262.9L543.6,263.0L548.0,263.0L551.6,262.2L555.2,261.4L557.7,257.4L561.2,255.8L564.7,254.2L569.5,245.2L573.4,244.1L577.3,243.0L577.0,237.4L581.6,236.9L586.6,241.9L590.4,242.9L594.1,243.8L599.0,242.4L603.9,241.0L610.5,245.9L611.1,250.5L616.7,258.6L622.0,260.9L617.3,266.2L612.7,271.5L606.1,276.6L599.4,281.7L592.5,282.5L585.5,283.1L578.5,283.8L571.6,284.4L564.6,285.0L557.7,285.6L551.8,286.0L546.0,286.4L540.2,286.8L534.4,287.1L534.7,290.5L527.6,291.0L520.5,291.6Z"/>
<path id="st-IL" fill="#f28d3c" d="M490.0,181.3L496.5,180.9L503.0,180.5L509.5,180.1L516.0,179.6L522.4,179.1L528.9,178.5L530.4,183.1L531.8,187.6L534.1,193.0L534.9,201.8L535.6,210.5L536.4,219.3L537.1,228.0L537.9,236.7L537.3,241.5L539.4,248.8L536.3,254.7L533.3,262.4L532.9,266.2L527.7,274.2L526.0,280.5L522.0,281.4L518.0,282.4L512.4,277.1L509.1,271.7L505.8,266.3L498.9,261.2L500.6,253.6L500.4,249.8L493.8,248.3L492.0,241.9L487.1,237.5L482.2,233.0L480.6,228.4L481.7,220.9L485.5,213.3L485.6,208.6L485.7,203.9L490.4,201.3L495.2,198.7L497.5,192.0L493.7,186.7Z"/>
<path id="st-IN" fill="#fbd2b0" d="M571.6,189.2L571.4,188.1L565.9,188.7L560.3,189.3L554.8,189.9L549.2,190.5L543.6,191.0L538.6,194.1L534.1,193.0L534.9,201.8L535.6,210.5L536.4,219.3L537.1,228.0L537.9,236.7L537.3,241.5L539.4,248.8L536.3,254.7L533.3,262.4L532.9,266.2L539.2,262.9L543.6,263.0L548.0,263.0L551.6,262.2L555.2,261.4L557.7,257.4L561.2,255.8L564.7,254.2L569.5,245.2L573.4,244.1L577.3,243.0L577.0,237.4L576.1,229.4L575.2,221.3L574.3,213.3L573.4,205.3L572.5,197.2Z"/>
<path id="st-OH" fill="#fbd2b0" d="M571.6,189.2L577.7,188.3L583.9,187.3L590.1,186.3L595.2,188.1L599.6,189.4L605.1,188.6L610.6,187.8L614.7,187.2L617.8,184.4L620.8,181.5L625.1,178.7L629.4,175.8L630.8,184.0L632.1,192.3L633.5,200.5L633.1,205.1L632.6,210.8L631.7,218.6L628.8,222.8L624.2,225.4L621.1,228.7L621.0,233.4L614.9,236.2L615.7,241.8L610.5,245.9L603.9,241.0L599.0,242.4L594.1,243.8L590.4,242.9L586.6,241.9L581.6,236.9L577.0,237.4L576.1,229.4L575.2,221.3L574.3,213.3L573.4,205.3L572.5,197.2Z"/>
<path id="st-WI" fill="#fbd2b0" d="M466.9,103.5L469.5,104.3L473.7,102.6L477.9,100.9L482.1,99.1L484.3,104.5L488.7,105.8L492.8,109.8L497.3,110.7L501.7,111.7L506.2,112.6L510.7,113.7L515.1,114.9L519.5,116.0L521.9,120.9L524.3,125.8L527.4,130.2L523.9,136.1L523.0,140.8L527.0,137.7L531.1,134.5L535.0,126.7L531.8,135.4L530.6,140.1L529.3,144.9L528.8,150.1L528.2,155.3L527.5,162.3L526.8,169.4L527.8,174.0L528.9,178.5L522.4,179.1L516.0,179.6L509.5,180.1L503.0,180.5L496.5,180.9L490.0,181.3L484.3,177.9L482.7,172.4L482.0,167.7L481.3,163.1L479.9,156.7L475.6,152.7L471.4,148.7L466.0,145.2L462.6,143.0L459.2,140.8L459.7,136.2L460.7,128.7L457.3,125.1L459.1,119.5L464.9,116.0L464.7,110.6L464.5,105.3Z"/>
<path id="st-MI" fill="#f8ba86" d="M500.8,81.4L504.9,78.3L509.0,75.2L510.2,76.4L506.1,79.7L502.0,83.0ZM488.7,105.8L492.5,103.4L496.4,101.0L501.4,99.3L506.4,97.6L509.4,94.6L512.4,91.6L516.7,89.4L520.9,87.2L517.7,93.9L513.7,100.2L517.1,98.8L520.6,97.4L524.1,100.8L527.6,104.2L532.5,104.5L537.4,104.7L542.0,101.9L546.5,99.0L552.5,97.5L558.5,96.0L558.4,101.0L562.6,100.5L566.8,100.0L570.5,104.2L573.9,105.2L577.3,106.1L572.5,109.6L568.0,110.9L563.4,112.2L559.4,109.3L553.7,110.7L547.9,112.0L542.9,113.8L538.5,116.1L540.2,119.7L537.1,115.3L533.4,117.6L530.1,124.4L527.4,130.2L524.3,125.8L521.9,120.9L519.5,116.0L515.1,114.9L510.7,113.7L506.2,112.6L501.7,111.7L497.3,110.7L492.8,109.8ZM590.1,186.3L591.8,181.2L593.5,176.1L597.2,172.3L600.8,168.5L600.4,161.0L598.6,155.7L596.8,150.3L590.9,142.6L585.3,146.2L582.3,148.9L579.3,151.7L583.6,143.6L585.7,138.7L584.8,132.2L583.9,125.8L580.5,119.7L576.4,118.9L572.3,118.0L567.7,115.9L563.2,113.9L560.1,115.7L560.1,121.3L557.1,123.5L554.0,125.7L554.2,133.1L550.0,134.5L545.8,135.9L544.8,142.5L543.8,149.1L545.3,156.5L547.2,161.9L549.1,167.3L549.7,172.8L550.3,178.4L548.3,183.3L546.4,188.1L543.6,191.0L549.2,190.5L554.8,189.9L560.3,189.3L565.9,188.7L571.4,188.1L571.6,189.2L577.7,188.3L583.9,187.3Z"/>
<path id="st-WV" fill="#fde8d8" d="M610.5,245.9L615.7,241.8L614.9,236.2L621.0,233.4L621.1,228.7L624.2,225.4L628.8,222.8L631.7,218.6L632.6,210.8L633.1,205.1L633.5,200.5L634.9,209.0L636.3,217.4L641.2,216.6L646.1,215.8L650.9,215.0L651.8,219.8L652.6,224.5L657.2,219.0L661.6,215.4L666.4,214.1L669.0,212.5L673.5,213.1L677.0,217.8L676.1,221.4L672.0,219.7L667.9,218.0L666.5,225.9L662.7,230.9L657.7,238.5L652.3,236.9L650.8,242.9L649.2,248.8L646.3,257.8L642.8,259.0L638.7,262.3L633.6,264.8L627.1,266.5L622.0,260.9L616.7,258.6L611.1,250.5Z"/>
<path id="st-VA" fill="#f28d3c" d="M599.4,281.7L606.1,276.6L612.7,271.5L617.3,266.2L622.0,260.9L627.1,266.5L633.6,264.8L638.7,262.3L642.8,259.0L646.3,257.8L649.2,248.8L650.8,242.9L652.3,236.9L657.7,238.5L662.7,230.9L666.5,225.9L667.9,218.0L672.0,219.7L676.1,221.4L677.0,217.8L680.9,221.2L684.8,222.4L688.3,224.5L688.8,227.3L686.3,233.5L689.9,232.8L692.8,236.0L697.3,236.5L701.9,237.0L703.3,240.0L703.3,243.8L698.8,241.9L694.3,239.9L698.8,242.6L703.2,245.3L704.9,249.8L697.5,248.0L703.9,251.9L705.8,255.3L700.3,254.2L694.8,253.2L700.1,255.0L705.4,256.9L710.6,256.6L710.6,260.0L703.9,261.7L697.1,263.3L690.3,264.9L683.5,266.5L676.7,268.0L669.9,269.5L663.1,271.0L656.3,272.4L649.4,273.8L642.6,275.2L635.7,276.5L628.9,277.8L623.0,278.6L617.1,279.4L611.2,280.2L605.3,281.0ZM708.0,237.6L711.6,236.9L716.9,234.2L715.5,239.6L714.1,244.9L710.6,253.3L709.1,249.8L709.4,244.0Z"/>
<path id="st-MD" fill="#f28d3c" d="M650.9,215.0L657.4,213.8L663.9,212.7L670.3,211.5L676.8,210.2L683.2,209.0L689.7,207.7L696.1,206.3L702.5,205.0L704.6,212.6L706.7,220.1L708.8,227.7L713.4,226.8L718.1,225.9L716.9,234.2L711.6,236.9L708.0,237.6L707.7,232.9L702.4,232.2L699.4,225.1L699.6,219.4L700.9,211.5L699.6,208.9L696.9,213.3L694.6,216.6L696.5,221.9L695.8,225.9L699.3,231.8L701.9,237.0L697.3,236.5L692.8,236.0L689.9,232.8L686.3,233.5L688.8,227.3L688.3,224.5L684.8,222.4L680.9,221.2L677.0,217.8L673.5,213.1L669.0,212.5L666.4,214.1L661.6,215.4L657.2,219.0L652.6,224.5L651.8,219.8Z"/>
<path id="st-DE" fill="#f8ba86" d="M702.5,205.0L704.7,202.2L707.6,202.4L705.8,206.2L706.5,209.3L710.1,213.3L715.9,219.7L718.1,225.9L713.4,226.8L708.8,227.7L706.7,220.1L704.6,212.6Z"/>
<path id="st-PA" fill="#f8ba86" d="M629.4,175.8L634.1,172.3L638.8,168.8L639.7,173.7L646.4,172.6L653.0,171.4L659.7,170.2L666.3,168.9L672.9,167.6L679.5,166.3L686.2,164.9L692.8,163.6L699.4,162.1L705.1,168.5L710.8,171.8L706.5,180.0L706.9,186.3L711.4,190.1L715.2,194.0L711.4,199.6L707.6,202.4L704.7,202.2L702.5,205.0L696.1,206.3L689.7,207.7L683.2,209.0L676.8,210.2L670.3,211.5L663.9,212.7L657.4,213.8L650.9,215.0L646.1,215.8L641.2,216.6L636.3,217.4L634.9,209.0L633.5,200.5L632.1,192.3L630.8,184.0Z"/>
<path id="st-NJ" fill="#f28d3c" d="M710.8,171.8L716.9,173.9L722.9,175.9L722.9,181.7L720.6,186.1L724.2,186.2L725.1,192.7L725.9,199.2L723.2,206.5L720.7,211.6L718.2,216.7L712.7,211.8L707.4,208.1L707.0,205.9L707.6,202.4L711.4,199.6L715.2,194.0L711.4,190.1L706.9,186.3L706.5,180.0Z"/>
<path id="st-NY" fill="#f28d3c" d="M638.8,168.8L642.6,164.1L646.3,159.3L648.5,156.1L645.2,149.2L649.7,147.6L654.2,146.0L658.7,144.4L662.2,144.7L665.7,144.9L670.3,143.7L674.9,142.5L678.4,139.5L681.9,136.4L680.5,130.0L677.8,126.8L680.7,122.8L683.6,118.9L686.1,114.6L688.5,110.3L691.7,108.1L695.0,106.0L701.0,104.6L707.0,103.2L713.0,101.8L714.1,106.3L715.2,110.8L716.0,115.4L716.7,120.0L718.5,127.2L720.7,127.6L722.3,134.9L724.0,142.1L724.0,148.8L724.0,155.5L725.7,162.3L727.3,169.1L725.1,173.5L726.6,175.1L725.6,178.7L731.7,175.4L736.0,173.8L740.3,172.1L744.3,167.9L742.9,171.1L746.8,169.4L750.7,167.8L746.5,171.1L742.3,174.4L738.1,177.7L732.6,180.3L727.1,183.0L723.1,183.9L722.9,181.7L722.9,175.9L716.9,173.9L710.8,171.8L705.1,168.5L699.4,162.1L692.8,163.6L686.2,164.9L679.5,166.3L672.9,167.6L666.3,168.9L659.7,170.2L653.0,171.4L646.4,172.6L639.7,173.7Z"/>
<path id="st-CT" fill="#f28d3c" d="M724.0,155.5L729.8,154.3L735.5,153.0L741.2,151.8L746.9,150.4L748.4,156.0L749.8,161.6L749.5,163.2L744.9,164.9L740.3,166.5L735.7,168.1L731.2,171.6L726.6,175.1L725.1,173.5L727.3,169.1L725.7,162.3Z"/>
<path id="st-RI" fill="#fde8d8" d="M746.9,150.4L752.5,149.0L753.1,151.1L754.3,153.1L756.5,154.5L758.5,157.4L757.6,158.3L754.0,155.7L754.5,160.4L749.5,163.2L749.8,161.6L748.4,156.0Z"/>
<path id="st-MA" fill="#f28d3c" d="M724.0,155.5L724.0,148.8L724.0,142.1L729.5,141.0L734.9,139.8L740.2,138.4L745.5,137.0L750.7,135.6L755.8,131.7L759.8,134.9L755.9,141.7L760.9,144.2L763.2,147.5L765.4,150.2L768.7,149.1L772.0,148.0L770.4,146.5L768.1,144.2L770.0,143.7L772.9,147.7L773.3,150.1L768.8,152.1L764.7,155.2L763.8,152.1L760.1,157.0L758.5,157.4L756.5,154.5L754.3,153.1L753.1,151.1L752.5,149.0L746.9,150.4L741.2,151.8L735.5,153.0L729.8,154.3Z"/>
<path id="st-VT" fill="#fbd2b0" d="M713.0,101.8L718.9,100.3L724.8,98.8L730.7,97.2L736.6,95.7L737.9,103.2L735.9,108.5L733.8,113.8L733.7,121.5L733.3,126.4L732.8,131.3L734.9,139.8L729.5,141.0L724.0,142.1L722.3,134.9L720.7,127.6L718.5,127.2L716.7,120.0L716.0,115.4L715.2,110.8L714.1,106.3Z"/>
<path id="st-NH" fill="#f8ba86" d="M736.6,95.7L736.7,91.0L740.5,89.1L742.8,96.1L745.1,103.2L747.1,109.7L749.1,116.2L751.1,122.8L754.4,125.7L756.4,127.7L755.8,131.7L750.7,135.6L745.5,137.0L740.2,138.4L734.9,139.8L732.8,131.3L733.3,126.4L733.7,121.5L733.8,113.8L735.9,108.5L737.9,103.2Z"/>
<path id="st-ME" fill="#fde8d8" d="M740.5,89.1L743.3,84.0L744.0,77.3L744.7,70.7L745.3,64.0L747.0,56.3L748.7,48.7L752.0,43.3L758.0,46.0L760.7,43.7L763.3,41.3L769.3,43.3L773.3,46.7L775.3,52.7L777.3,58.7L780.7,65.3L784.0,66.7L785.3,72.7L791.3,76.0L793.3,80.7L790.0,86.7L786.7,89.3L783.3,94.7L781.3,93.3L779.3,98.7L777.3,94.7L774.7,100.0L772.7,94.7L770.7,98.7L766.7,101.3L764.0,108.0L761.0,110.0L758.0,112.0L756.0,118.7L756.4,127.7L754.4,125.7L751.1,122.8L749.1,116.2L747.1,109.7L745.1,103.2L742.8,96.1Z"/>
<path id="st-AK" fill="#f28d3c" d="M160.5,422.5L161.9,491.8L157.0,492.5L152.5,493.4L149.1,491.2L146.5,490.4L144.3,488.0L142.0,488.8L139.8,485.8L137.9,485.0L136.8,488.0L135.3,491.8L133.0,494.0L130.0,495.7L126.3,495.9L124.4,495.1L125.9,491.4L128.1,487.6L130.4,485.4L130.0,483.1L126.3,485.0L122.5,489.1L119.1,492.9L116.1,495.9L114.6,497.8L112.3,502.3L107.0,506.0L101.8,509.8L97.3,513.1L93.5,515.4L89.8,516.5L86.8,515.9L86.0,515.0L87.5,512.8L90.5,510.5L94.3,509.0L96.5,506.8L99.5,503.0L101.8,500.0L103.3,497.0L100.6,497.4L98.8,495.5L95.8,497.8L95.0,494.8L92.0,492.5L89.0,494.0L85.3,493.6L86.8,491.8L87.9,488.0L87.5,482.0L82.3,483.5L80.0,479.8L79.3,477.1L84.5,477.5L82.3,475.3L79.3,471.5L80.0,467.8L83.8,463.3L87.5,460.6L90.5,461.8L94.3,459.1L99.5,458.0L101.4,452.8L101.0,451.3L93.5,449.8L87.5,448.4L80.0,447.8L76.0,448.6L72.5,451.5L73.5,454.0L70.5,453.0L68.5,449.5L66.0,448.0L67.0,446.6L71.0,447.2L76.0,445.5L80.0,442.5L84.0,440.4L86.7,438.7L95.6,438.2L99.1,440.4L102.7,442.2L106.2,440.4L104.4,436.9L101.8,434.2L99.1,432.4L96.4,429.8L95.6,424.4L95.6,421.8L101.8,420.0L113.3,417.8L126.7,417.8L140.0,419.1L153.3,421.3ZM161.9,492.5L166.0,491.8L169.8,492.5L172.0,495.5L175.8,499.3L179.5,495.5L182.5,494.0L184.8,495.5L187.8,499.3L192.3,504.5L196.8,510.5L200.5,515.0L205.0,516.5L208.0,518.8L208.0,523.3L205.0,526.3L199.8,527.8L194.5,524.8L190.0,518.8L184.0,513.5L181.0,507.5L176.5,502.3L170.5,498.5L166.0,495.5L161.9,493.6ZM110.8,509.8L114.5,506.0L119.0,503.0L121.3,503.8L120.5,507.5L116.8,510.5L112.3,512.8L110.0,514.3ZM71.0,477.9L74.0,477.5L75.9,479.0L74.8,480.5L71.8,479.8ZM51.9,464.8L53.0,465.1L53.6,468.5L52.4,468.1ZM79.6,513.5L83.8,515.0L86.0,516.9L81.9,518.2L77.4,517.1ZM65.0,518.6L71.4,517.1L72.5,518.8L66.1,520.4ZM54.5,521.5L60.5,520.3L61.0,521.8L55.3,523.0ZM44.0,524.2L50.0,521.5L50.8,522.5L44.8,525.2ZM39.9,523.0L41.4,523.3L40.7,524.5ZM26.0,522.2L29.0,521.8L29.0,522.9L26.4,523.1ZM83.4,518.8L86.0,519.5L88.3,521.8L86.0,521.4ZM73.4,521.8L75.4,523.4L74.5,523.7Z"/>
<path id="st-HI" fill="#fde8d8" d="M230.0,481.6L232.8,478.1L233.8,478.8L231.2,482.2ZM237.2,478.1L238.8,475.6L241.9,475.0L244.4,475.9L244.7,478.8L242.5,480.9L239.4,480.6ZM258.4,485.0L260.6,484.7L262.8,483.1L265.0,486.2L267.8,489.1L266.2,490.6L263.1,489.4L261.2,490.0L260.0,487.5ZM272.2,490.9L280.6,491.2L280.3,492.5L272.2,492.5ZM275.9,495.6L278.8,495.6L279.1,497.5L277.2,498.1ZM281.6,494.1L283.1,493.4L284.4,495.6L287.5,494.4L290.6,495.9L291.6,498.1L289.4,500.0L286.2,500.0L284.7,498.1L282.5,497.5ZM280.6,500.9L283.1,500.0L283.4,500.9L281.2,501.8ZM292.2,505.0L294.1,504.7L296.9,506.6L300.6,508.1L303.8,510.6L306.2,513.8L308.4,516.2L305.6,518.8L303.1,521.9L298.8,523.8L295.6,525.6L293.1,523.1L291.9,519.4L290.3,513.8L291.9,510.0L292.8,507.5Z"/>
<path id="st-CA" fill="#86e0f8" d="M88.5,333.1L87.2,329.6L87.7,324.0L84.8,315.7L81.7,312.1L78.6,308.5L74.3,306.5L73.9,301.6L69.0,299.0L64.1,296.4L59.3,290.4L53.1,288.3L47.0,286.3L44.7,282.8L46.0,278.3L47.2,273.8L45.0,267.4L40.6,260.4L37.8,253.8L35.0,247.3L35.8,241.7L39.2,237.8L35.4,234.8L32.4,229.1L32.6,223.3L34.0,218.3L37.1,223.6L38.9,225.1L37.5,216.9L34.4,217.0L31.3,214.7L28.2,212.3L29.8,206.9L26.5,200.1L23.3,193.3L24.1,185.8L25.1,181.2L26.1,176.6L23.9,171.6L21.8,166.5L22.2,162.8L28.7,156.0L30.1,150.5L31.4,145.1L32.4,140.5L33.5,135.9L39.6,137.8L45.8,139.6L52.0,141.4L58.2,143.1L64.4,144.9L70.6,146.6L76.8,148.2L83.0,149.9L89.2,151.5L87.2,159.2L85.2,167.0L83.2,174.7L81.1,182.4L79.1,190.2L77.1,197.9L75.1,205.7L80.2,214.0L85.4,222.3L90.7,230.6L96.0,238.8L101.5,247.0L107.0,255.3L112.6,263.5L118.2,271.6L124.0,279.8L129.8,287.9L135.7,296.0L135.9,299.8L136.2,304.6L136.6,309.5L140.2,311.1L134.6,315.7L132.2,323.8L128.0,328.7L130.4,332.9L126.0,337.4L118.5,336.6L111.0,335.8L103.5,334.9L96.0,334.0Z"/>
</g>
<path d="M179.5,500.0L184.0,507.5L188.5,514.3L193.8,521.0L197.5,526.3M183.3,500.0L187.8,506.0L193.0,512.8L198.3,519.5L202.8,524.0M181.8,504.5L186.3,512.0L191.5,518.0L196.0,524.0M186.3,501.5L190.0,507.5L194.5,513.5M136.8,485.0L139.8,488.8L142.0,491.8L139.0,494.0M139.0,488.0L142.8,489.5L145.8,491.0" fill="none" stroke="#b9bec3" stroke-width="1.6"/>
<path d="M710.6,260.0L716.3,266.3L721.5,275.3L718.8,277.5M401.0,454.1L396.4,464.2L394.4,475.2L397.0,488.1" fill="none" stroke="#b9bec3" stroke-width="1.3"/>
</svg><div class="labels"><span class="sl" style="left:742.4px;top:67.9px">ME</span><span class="sl" style="left:702.5px;top:97.5px">VT</span><span class="sl" style="left:720.7px;top:118.0px">NH</span><span class="sl" style="left:734.7px;top:137.7px">MA</span><span class="sl" style="left:731.4px;top:153.8px">RI</span><span class="sl" style="left:713.0px;top:156.3px">CT</span><span class="sl" style="left:673.1px;top:139.0px">NY</span><span class="sl" style="left:699.7px;top:197.2px">NJ</span><span class="sl" style="left:689.5px;top:212.3px">DE</span><span class="sl" style="left:667.0px;top:216.9px">DC</span><span class="sl" style="left:691.0px;top:229.2px">MD</span><span class="sl" style="left:650.4px;top:183.7px">PA</span><span class="sl" style="left:546.6px;top:149.7px">MI</span><span class="sl" style="left:577.0px;top:207.2px">OH</span><span class="sl" style="left:533.6px;top:220.7px">IN</span><span class="sl" style="left:611.8px;top:230.4px">WV</span><span class="sl" style="left:653.4px;top:241.2px">VA</span><span class="sl" style="left:560.2px;top:259.0px">KY</span><span class="sl" style="left:651.7px;top:283.3px">NC</span><span class="sl" style="left:412.0px;top:114.2px">MN</span><span class="sl" style="left:466.9px;top:123.6px">WI</span><span class="sl" style="left:415.8px;top:182.4px">IA</span><span class="sl" style="left:491.7px;top:222.5px">IL</span><span class="sl" style="left:445.2px;top:256.0px">MO</span><span class="sl" style="left:534.9px;top:294.2px">TN</span><span class="sl" style="left:629.2px;top:315.9px">SC</span><span class="sl" style="left:591.6px;top:345.3px">GA</span><span class="sl" style="left:540.5px;top:352.2px">AL</span><span class="sl" style="left:493.7px;top:350.4px">MS</span><span class="sl" style="left:634.3px;top:431.4px">FL</span><span class="sl" style="left:445.7px;top:320.5px">AR</span><span class="sl" style="left:452.0px;top:390.5px">LA</span><span class="sl" style="left:389.0px;top:309.5px">OK</span><span class="sl" style="left:97.5px;top:47.8px">WA</span><span class="sl" style="left:229.0px;top:82.0px">MT</span><span class="sl" style="left:341.0px;top:83.0px">ND</span><span class="sl" style="left:67.5px;top:107.0px">OR</span><span class="sl" style="left:154.4px;top:129.5px">ID</span><span class="sl" style="left:338.8px;top:139.8px">SD</span><span class="sl" style="left:238.3px;top:159.0px">WY</span><span class="sl" style="left:338.3px;top:193.5px">NE</span><span class="sl" style="left:98.6px;top:194.0px">NV</span><span class="sl" style="left:173.4px;top:224.9px">UT</span><span class="sl" style="left:258.3px;top:235.6px">CO</span><span class="sl" style="left:336.2px;top:247.9px">KS</span><span class="sl" style="left:65.3px;top:270.9px">CA</span><span class="sl" style="left:158.1px;top:306.7px">AZ</span><span class="sl" style="left:366.7px;top:388.5px">TX</span><span class="sl" style="left:103.2px;top:442.7px">AK</span><span class="sl" style="left:279.4px;top:509.2px">HI</span><span class="sl" style="left:246.0px;top:320.0px">NM</span></div></div><aside class="tip"></aside><span class="t" style="left:874.8px;top:517.6px;font-size:24.5px;letter-spacing:-0.34px;color:#666;-webkit-text-stroke:.35px #666;">California</span><span class="t" style="left:874.5px;top:578.7px;font-size:16.3px;letter-spacing:-0.25px;color:#111;-webkit-text-stroke:.3px #111;">Median Base Salary</span><span class="t" style="left:874.5px;top:599.8px;font-size:19.5px;letter-spacing:0.33px;color:#111;-webkit-text-stroke:.2px #111;">$65,000</span><span class="t" style="left:961.7px;top:601.5px;font-size:17.5px;letter-spacing:-1.85px;color:#2a9d2a;-webkit-text-stroke:.3px #2a9d2a;">11.61%</span><span class="t" style="left:1016.0px;top:602.5px;font-size:16.3px;letter-spacing:-0.19px;color:#111;-webkit-text-stroke:.3px #111;">vs. National Median</span><span class="t" style="left:874.5px;top:654.1px;font-size:16.3px;letter-spacing:-0.07px;color:#111;-webkit-text-stroke:.3px #111;">Median Total Cash Compensation Including OT</span><span class="t" style="left:874.5px;top:674.7px;font-size:19.5px;letter-spacing:-0.83px;color:#111;-webkit-text-stroke:.2px #111;">$71,028</span><span class="t" style="left:954.3px;top:676.0px;font-size:18px;letter-spacing:-0.71px;color:#2a9d2a;-webkit-text-stroke:.3px #2a9d2a;">14.56%</span><span class="t" style="left:1017.4px;top:677.4px;font-size:16.3px;letter-spacing:-0.17px;color:#111;-webkit-text-stroke:.3px #111;">vs. National Median</span><span class="t" style="left:874.7px;top:718.7px;font-size:16.3px;letter-spacing:-0.16px;color:#111;-webkit-text-stroke:.3px #111;">Organizations</span><span class="t" style="left:1011.5px;top:718.7px;font-size:16.3px;letter-spacing:-0.27px;color:#111;-webkit-text-stroke:.3px #111;">Employees</span><span class="t" style="left:874.7px;top:739.0px;font-size:19.5px;letter-spacing:-1.20px;color:#111;-webkit-text-stroke:.2px #111;">1,904</span><span class="t" style="left:1017.9px;top:739.0px;font-size:19.5px;letter-spacing:-1.55px;color:#111;-webkit-text-stroke:.2px #111;">7,140</span><span class="t" style="left:874.7px;top:802.6px;font-size:16.4px;font-weight:700;font-style:italic;color:#000;">Double click on the geographic location to zoom in</span><div class="legendbg1"></div><div class="legendbg2"></div><span class="t" style="left:998.3px;top:954.6px;font-size:18.5px;letter-spacing:-0.86px;color:#444;-webkit-text-stroke:.3px #444;">LOWER</span><div class="sw" style="left:1073.7px;background:#fcebde"></div><div class="sw" style="left:1129.3px;background:#f9d7bb"></div><div class="sw" style="left:1184.9px;background:#f6c49a"></div><div class="sw" style="left:1240.5px;background:#f2a05e"></div><span class="t" style="left:1306.3px;top:954.6px;font-size:18.5px;letter-spacing:-0.45px;color:#444;-webkit-text-stroke:.3px #444;">HIGHER</span>
<section class="card"></section><div class="cardnotch"></div><div class="cardnotch2"></div><div class="edge"></div>
<span class="t" style="left:65.0px;top:1013.8px;font-size:25px;letter-spacing:-0.73px;color:#111;-webkit-text-stroke:.35px #111;">Base Salary</span>
<svg class="abs" style="left:199px;top:1017px" width="19" height="19" viewBox="0 0 19 19"><circle cx="9.5" cy="9.5" r="9.3" fill="#8a8a8a"/><path d="M8.100 3.600h2.900v2.600H8.100zM7.400 8h3.700v5.300h1.100v1.600H7.400v-1.600h1V9.600h-1z" fill="#fff"/></svg>
<span class="t" style="left:65.0px;top:1046.2px;font-size:17.5px;letter-spacing:-0.13px;color:#888;">Data as of : March 31, 2016</span>
<div class="medline"></div>
<span class="t" style="left:122.5px;top:1092.9px;font-size:19px;letter-spacing:-0.02px;color:#666;">Median:</span><span class="t" style="left:204.0px;top:1092.5px;font-size:19.5px;letter-spacing:0.25px;color:#111;-webkit-text-stroke:.3px #111;">$58,240</span>
<svg class="abs" style="left:98px;top:1128.500px" width="25" height="25" viewBox="0 0 25 25"><path d="M12.500 3.800L21.200 12.500L12.500 21.200L3.800 12.500Z" fill="#fff" stroke="#1d6b80" stroke-width="4.200"/></svg>
<span class="t" style="left:128.5px;top:1128.9px;font-size:19px;letter-spacing:-0.03px;color:#666;">Average:</span><span class="t" style="left:223.5px;top:1128.5px;font-size:19.5px;letter-spacing:-0.67px;color:#111;-webkit-text-stroke:.3px #111;">$61,846</span>
<span class="t" style="left:475.0px;top:1079.5px;font-size:16.5px;letter-spacing:-0.71px;">10th</span><span class="t" style="left:452.5px;top:1100.6px;font-size:17px;letter-spacing:-0.16px;color:#111;-webkit-text-stroke:.25px #111;">$38,854</span>
<div class="bar"><i></i><b></b></div>
<svg class="abs" style="left:818px;top:1131.500px" width="23" height="23" viewBox="0 0 23 23"><path d="M11.500 3.600L19.400 11.500L11.500 19.400L3.600 11.500Z" fill="#fff" stroke="#1d6b80" stroke-width="4"/></svg>
<span class="t" style="left:592.5px;top:1169.5px;font-size:16.5px;letter-spacing:0.12px;">25th</span><span class="t" style="left:570.0px;top:1190.1px;font-size:17px;letter-spacing:-0.24px;color:#111;-webkit-text-stroke:.25px #111;">$47,207</span>
<span class="t" style="left:973.0px;top:1169.5px;font-size:16.5px;letter-spacing:-0.21px;">75th</span><span class="t" style="left:973.0px;top:1190.1px;font-size:17px;letter-spacing:-0.74px;color:#111;-webkit-text-stroke:.25px #111;">$72,100</span>
<span class="t" style="left:1174.0px;top:1079.5px;font-size:16.5px;letter-spacing:0.46px;">90th</span><span class="t" style="left:1174.0px;top:1100.6px;font-size:17px;letter-spacing:0.17px;color:#111;-webkit-text-stroke:.25px #111;">$86,520</span>
<div class="chartbox"></div>
<svg class="abs" style="left:1320px;top:1140px" width="290" height="40" viewBox="0 0 290 40"><path d="M17 21L81 20.500L144.500 20L208.500 19.500L272 19" stroke="#2d4a5c" stroke-width="2.200" fill="none"/><g fill="#fff" stroke="#2d4a5c" stroke-width="2.400"><circle cx="17" cy="21" r="5.600"/><circle cx="81" cy="20.500" r="5.600"/><circle cx="144.500" cy="20" r="5.600"/><circle cx="208.500" cy="19.500" r="5.600"/><circle cx="272" cy="19" r="5.600"/></g></svg>
<svg class="abs" style="left:1719.500px;top:1016.500px" width="20" height="20" viewBox="0 0 20 20"><circle cx="10" cy="10" r="9.600" fill="#8a8a8a"/><path d="M5.200 7.800L10 12.600L14.800 7.800" stroke="#fff" stroke-width="2.600" fill="none"/></svg>
</main>
</body></html>
